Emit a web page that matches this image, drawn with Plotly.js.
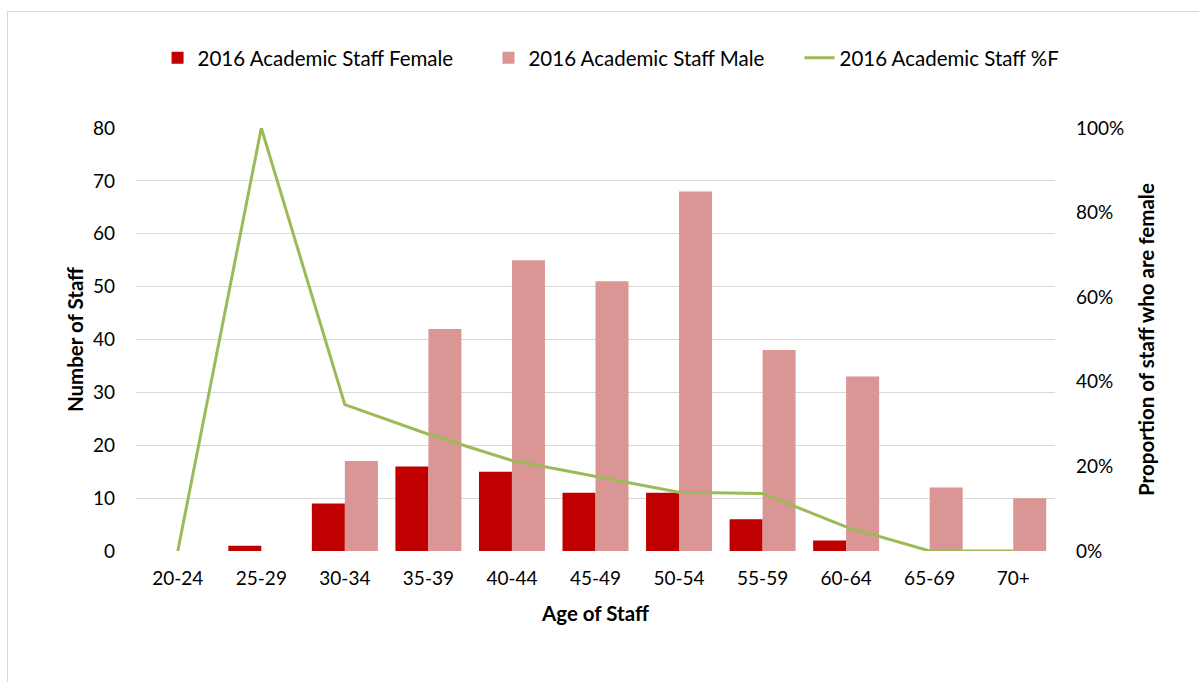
<!DOCTYPE html>
<html>
<head>
<meta charset="utf-8">
<script src="https://cdn.plot.ly/plotly-3.0.1.min.js"></script>
<style>
  html, body { margin: 0; padding: 0; background: #fff; }
  #frame { position: absolute; left: 7px; top: 11px; width: 1300px; height: 800px;
           border-left: 1px solid #d9d9d9; border-top: 1px solid #d9d9d9; }
  #chart { position: absolute; left: 0; top: 0; width: 1199px; height: 682px; }
</style>
</head>
<body>
<div id="frame"></div>
<div id="chart"></div>
<script>
const ageGroups = ['20-24','25-29','30-34','35-39','40-44','45-49','50-54','55-59','60-64','65-69','70+'];
const femaleStaff = [0, 1, 9, 16, 15, 11, 11, 6, 2, 0, 0];
const maleStaff = [0, 0, 17, 42, 55, 51, 68, 38, 33, 12, 10];
const pctFemale = [0, 1.0, 0.346, 0.276, 0.214, 0.177, 0.139, 0.136, 0.057, 0, 0];

const fontFam = 'Lato, "Open Sans", sans-serif';

const traces = [
  { type: 'bar', name: '2016 Academic Staff Female', x: ageGroups, y: femaleStaff,
    marker: { color: '#C00000' }, hoverinfo: 'x+y', legend: 'legend' },
  { type: 'bar', name: '2016 Academic Staff Male', x: ageGroups, y: maleStaff,
    marker: { color: '#DA9694' }, hoverinfo: 'x+y', legend: 'legend2' },
  { type: 'scatter', mode: 'lines', name: '2016 Academic Staff %F', x: ageGroups, y: pctFemale,
    yaxis: 'y2', line: { color: '#9BBB59', width: 3 }, legend: 'legend3' }
];

function legendAt(xc) {
  return { orientation: 'h', xref: 'container', yref: 'container',
           x: xc, xanchor: 'left', y: 0.915, yanchor: 'middle',
           bgcolor: 'rgba(0,0,0,0)',
           font: { family: fontFam, size: 20.5, color: '#000' } };
}

const layout = {
  width: 1199, height: 682,
  paper_bgcolor: 'rgba(0,0,0,0)', plot_bgcolor: 'rgba(0,0,0,0)',
  margin: { l: 136, r: 144, t: 128, b: 131 },
  font: { family: fontFam, size: 19, color: '#000' },
  barmode: 'group', bargap: 0.21, bargroupgap: 0,
  showlegend: true,
  legend: legendAt(0.1314),
  legend2: legendAt(0.4074),
  legend3: legendAt(0.6668),
  xaxis: {
    type: 'category', showgrid: false, showline: false, zeroline: false, ticks: '',
    tickfont: { size: 19 }, ticklabelstandoff: 14,
    title: { text: '<b>Age of Staff</b>', font: { size: 20.5 }, standoff: 18 }
  },
  yaxis: {
    range: [0, 80], dtick: 10, showgrid: true, gridcolor: '#d9d9d9', gridwidth: 1,
    zeroline: false, showline: false, ticks: '', ticklabelstandoff: 20,
    tickfont: { size: 19 },
    title: { text: '<b>Number of Staff</b>', font: { size: 20.5 }, standoff: 3 }
  },
  yaxis2: {
    overlaying: 'y', side: 'right', range: [0, 1], dtick: 0.2, tickformat: '.0%',
    showgrid: false, zeroline: false, showline: false, ticks: '', ticklabelstandoff: 20,
    tickfont: { size: 19 },
    title: { text: '<b>Proportion of staff who are female</b>', font: { size: 20.5 }, standoff: 16 }
  }
};

Plotly.newPlot('chart', traces, layout, { displayModeBar: false, staticPlot: true });
</script>
</body>
</html>
